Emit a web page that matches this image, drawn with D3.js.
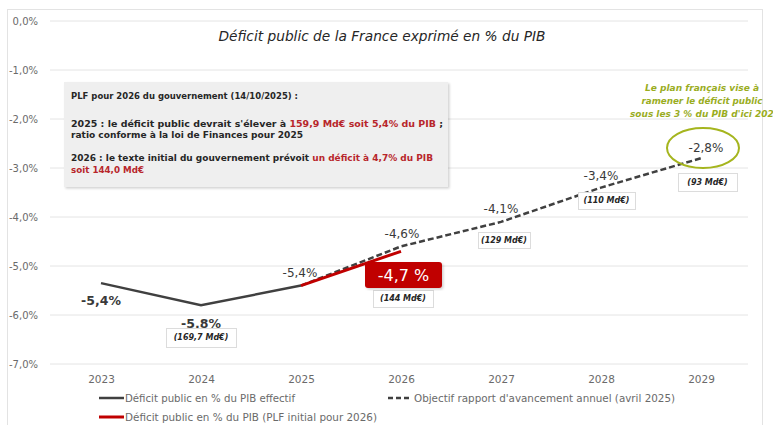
<!DOCTYPE html>
<html><head><meta charset="utf-8">
<script src="https://cdn.jsdelivr.net/npm/d3@7"></script>
<style>
html,body{margin:0;padding:0;background:#fff;}
svg{display:block;font-family:"DejaVu Sans",sans-serif;}
</style></head>
<body><svg id="c" width="773" height="425"></svg>
<script>
// ---- data ----
const years = ["2023","2024","2025","2026","2027","2028","2029"];
const yTicks = [0,-1,-2,-3,-4,-5,-6,-7];
const effectifYears = ["2023","2024","2025"];
const effectifValues = [-5.35,-5.8,-5.4];
const plfYears = ["2025","2026"];
const plfValues = [-5.4,-4.7];
const objectifYears = ["2025","2026","2027","2028","2029"];
const objectifValues = [-5.4,-4.6,-4.1,-3.4,-2.8];
const amountYears = ["2024","2026","2027","2028","2029"];
const amountLabels = ["(169,7 Md€)","(144 Md€)","(129 Md€)","(110 Md€)","(93 Md€)"];
const seriesNames = ["Déficit public en % du PIB effectif","Objectif rapport d'avancement annuel (avril 2025)","Déficit public en % du PIB (PLF initial pour 2026)"];

const svg = d3.select("#c");
const W=773,H=425;
const x = d3.scalePoint().domain(years).range([101,701]);
const y = d3.scaleLinear().domain([-7,0]).range([364,21]);
const fmt = v => d3.format(".1f")(v).replace(".",",").replace("−","-")+"%";

// frame
svg.append("rect").attr("x",7.5).attr("y",9.5).attr("width",755).attr("height",420).attr("fill","#fff").attr("stroke","#e3e3e3");

// grid
const g = svg.append("g");
yTicks.forEach(t=>{
  g.append("line").attr("x1",50).attr("x2",748).attr("y1",y(t)).attr("y2",y(t)).attr("stroke","#e4e4e4").attr("stroke-width",1);
  g.append("text").attr("x",38).attr("y",y(t)).attr("dy","0.35em").attr("text-anchor","end")
   .attr("font-size",10).attr("fill","#6a6a6a").text(t===0?"0,0%":fmt(t));
});
// x axis labels
const xa = d3.axisBottom(x).tickSize(0).tickPadding(0);
const xg = svg.append("g").attr("transform","translate(0,376)").call(xa);
xg.select(".domain").remove();
xg.selectAll("text").attr("font-size",10.5).attr("fill","#6a6a6a").attr("font-family","DejaVu Sans");

// title
svg.append("text").attr("x",382).attr("y",41).attr("text-anchor","middle").attr("font-size",14).attr("font-style","italic")
  .attr("fill","#262626").attr("textLength",327).attr("lengthAdjust","spacingAndGlyphs").text("Déficit public de la France exprimé en % du PIB");

// annotation box
const defs = svg.append("defs");
const f = defs.append("filter").attr("id","sh").attr("x","-5%").attr("y","-5%").attr("width","110%").attr("height","115%");
f.append("feDropShadow").attr("dx",1.5).attr("dy",1.5).attr("stdDeviation",1.2).attr("flood-color","#000").attr("flood-opacity",0.18);
svg.append("rect").attr("x",64).attr("y",82).attr("width",384).attr("height",105).attr("fill","#efefef").attr("filter","url(#sh)");
const red="#b8262b";
function rich(xp,yp,parts,len){
  const t=svg.append("text").attr("x",xp).attr("y",yp).attr("font-size",9.5).attr("font-weight","bold").attr("fill","#262626");
  if(len) t.attr("textLength",len).attr("lengthAdjust","spacingAndGlyphs");
  parts.forEach(p=>t.append("tspan").attr("fill",p[1]?red:"#262626").text(p[0]));
}
rich(71,99,[["PLF pour 2026 du gouvernement (14/10/2025) :",0]],227);
rich(71,127,[["2025 : le déficit public devrait s'élever à ",0],["159,9 Md€ soit 5,4% du PIB",1],[" ;",0]],372);
rich(71,138,[["ratio conforme à la loi de Finances pour 2025",0]],232);
rich(71,161,[["2026 : le texte initial du gouvernement prévoit ",0],["un déficit à 4,7% du PIB",1]],362);
rich(71,173,[["soit 144,0 Md€",1]],73);

// lines
const line = d3.line().x(d=>x(d[0])).y(d=>y(d[1]));
svg.append("path").datum(objectifYears.map((k,i)=>[k,objectifValues[i]])).attr("d",line)
  .attr("fill","none").attr("stroke","#404040").attr("stroke-width",2.5).attr("stroke-dasharray","6,3");
svg.append("path").datum(effectifYears.map((k,i)=>[k,effectifValues[i]])).attr("d",line)
  .attr("fill","none").attr("stroke","#404040").attr("stroke-width",2.5);
svg.append("path").datum(plfYears.map((k,i)=>[k,plfValues[i]])).attr("d",line)
  .attr("fill","none").attr("stroke","#c00000").attr("stroke-width",3);

// value labels
function lab(xp,yp,txt,opt={}){
  svg.append("text").attr("x",xp).attr("y",yp).attr("text-anchor","middle").attr("font-size",opt.fs||12)
   .attr("font-weight",opt.bold?"bold":"normal").attr("fill",opt.fill||"#3a3a3a").text(txt);
}
lab(x("2023"),305,fmt(effectifValues[0]-0.05),{bold:true,fs:12.5});
lab(x("2024"),328,fmt(effectifValues[1]),{bold:true,fs:12.5});
lab(x("2025")-1,277,fmt(effectifValues[2]));
lab(x("2026")+1,238,fmt(objectifValues[1]));
lab(x("2027"),213,fmt(objectifValues[2]));
lab(x("2028"),180,fmt(objectifValues[3]));
lab(x("2029")+5,152,fmt(objectifValues[4]));

// amount boxes
const boxPos = {"2024":[166,328,70,19],"2026":[373,290,60,17],"2027":[478,232,52,16],"2028":[578,192,57,17],"2029":[678,173,59,18]};
amountYears.forEach((k,i)=>{
  const b=boxPos[k];
  svg.append("rect").attr("x",b[0]+0.5).attr("y",b[1]+0.5).attr("width",b[2]).attr("height",b[3]).attr("fill","#fff").attr("stroke","#dcdcdc");
  svg.append("text").attr("x",b[0]+b[2]/2).attr("y",b[1]+b[3]/2).attr("dy","0.35em").attr("text-anchor","middle")
    .attr("font-size",8).attr("font-weight","bold").attr("font-style","italic").attr("fill","#262626").text(amountLabels[i]);
});

// red highlighted PLF 2026 label
svg.append("rect").attr("x",365).attr("y",262).attr("width",77).attr("height",26).attr("rx",3).attr("fill","#c00000")
  .attr("filter","url(#sh)");
svg.append("text").attr("x",403.5).attr("y",275).attr("dy","0.36em").attr("text-anchor","middle").attr("font-size",16)
  .attr("fill","#fff").text(fmt(plfValues[1]).replace("%"," %"));

// ellipse and green note
svg.append("ellipse").attr("cx",703).attr("cy",148).attr("rx",36).attr("ry",20).attr("fill","none").attr("stroke","#a5b51e").attr("stroke-width",2);
const green="#9aad1f";
[["Le plan français vise à",702,91,114],["ramener le déficit public",702,104,121],["sous les 3 % du PIB d'ici 2029",705,117,150]].forEach(l=>{
  svg.append("text").attr("x",l[1]).attr("y",l[2]).attr("text-anchor","middle").attr("font-size",9.5).attr("font-style","italic")
   .attr("font-weight","bold").attr("fill",green).attr("textLength",l[3]).attr("lengthAdjust","spacingAndGlyphs").text(l[0]);
});

// legend
const lg = svg.append("g").attr("font-size",10).attr("fill","#6a6a6a");
lg.append("line").attr("x1",99).attr("x2",124).attr("y1",398).attr("y2",398).attr("stroke","#404040").attr("stroke-width",2.5);
lg.append("text").attr("x",125).attr("y",398).attr("dy","0.35em").attr("textLength",170).attr("lengthAdjust","spacingAndGlyphs").text(seriesNames[0]);
lg.append("line").attr("x1",388).attr("x2",411).attr("y1",398).attr("y2",398).attr("stroke","#404040").attr("stroke-width",2.5).attr("stroke-dasharray","5,3");
lg.append("text").attr("x",414).attr("y",398).attr("dy","0.35em").attr("textLength",261).attr("lengthAdjust","spacingAndGlyphs").text(seriesNames[1]);
lg.append("line").attr("x1",99).attr("x2",124).attr("y1",417).attr("y2",417).attr("stroke","#c00000").attr("stroke-width",3);
lg.append("text").attr("x",125).attr("y",417).attr("dy","0.35em").attr("textLength",252).attr("lengthAdjust","spacingAndGlyphs").text(seriesNames[2]);
</script></body></html>
